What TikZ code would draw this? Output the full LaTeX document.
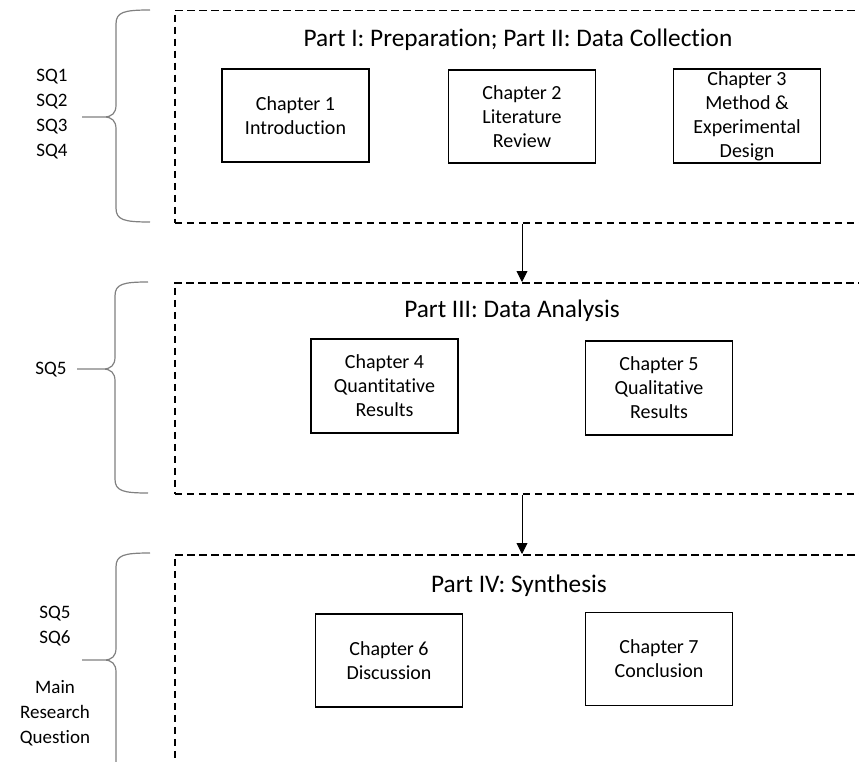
\documentclass[tikz,border=0pt]{standalone}
\usepackage{fontspec}
\setmainfont{Carlito}[Ligatures={NoCommon,NoRare,NoContextual}]
\usetikzlibrary{arrows.meta}
\begin{document}
\begin{tikzpicture}[x=1pt,y=-1pt,
  partbox/.style={draw, dash pattern=on 7.5pt off 4.5pt, line width=1.5pt, anchor=north west, inner sep=0pt, minimum width=720pt},
  chapbox/.style={draw, line width=1.5pt, minimum width=147pt, minimum height=93pt, inner sep=0pt, align=center, font=\fontsize{20}{24}\selectfont},
  parttitle/.style={font=\fontsize{25.3}{30}\selectfont, anchor=base, inner sep=0pt},
  sqlabel/.style={align=center, inner sep=0pt, font=\fontsize{19}{25}\selectfont},
  bracestyle/.style={draw=black!50, line width=1.2pt},
  arr/.style={-{Triangle[width=11pt,length=11pt]}, line width=0.9pt}]
\useasboundingbox (0,0) rectangle (859,762);
\clip (0,0) rectangle (859,762);

% part boxes
\node[partbox, minimum height=212pt] (p1) at (174,10) {};
\node[partbox, minimum height=211pt] (p2) at (174,282) {};
\node[partbox, minimum height=260pt] (p3) at (174,554) {};

% titles
\node[parttitle] (t1) at (518,47) {Part I: Preparation; Part II: Data Collection};
\node[parttitle] (t2) at (512,317) {Part III: Data Analysis};
\node[parttitle] (t3) at (519,592) {Part IV: Synthesis};

% chapters
\node[chapbox] (c1) at (295.5,115.5) {Chapter 1\\Introduction};
\node[chapbox] (c2) at (522,116.5) {Chapter 2\\Literature\\Review};
\node[chapbox, minimum height=94pt] (c3) at (747,116) {Chapter 3\\Method \&\\Experimental\\Design};
\node[chapbox, minimum height=94pt] (c4) at (384.5,386) {Chapter 4\\Quantitative\\Results};
\node[chapbox, minimum height=94pt] (c5) at (659,388) {Chapter 5\\Qualitative\\Results};
\node[chapbox] (c6) at (389,660.5) {Chapter 6\\Discussion};
\node[chapbox] (c7) at (659,659) {Chapter 7\\Conclusion};

% arrows between parts
\coordinate (ax) at (522,0);
\draw[arr] (ax |- p1.south) -- (ax |- p2.north);
\draw[arr] (ax |- p2.south) -- (ax |- p3.north);

% labels
\node[sqlabel] (s1) at (52,114) {SQ1\\SQ2\\SQ3\\SQ4};
\node[sqlabel] (s2) at (51,370) {SQ5};
\node[sqlabel] (s3) at (55,676) {SQ5\\SQ6\\[25pt]Main\\Research\\Question};

% braces
\draw[bracestyle] (150,10) .. controls (124,10) and (116,12) .. (116,24)
  -- (116,105) .. controls (116,113) and (112,117) .. (104,117) -- (82,117)
  -- (104,117) .. controls (112,117) and (116,121) .. (116,129)
  -- (116,208) .. controls (116,220) and (124,222) .. (150,222);
\draw[bracestyle] (148,282) .. controls (123,282) and (115,284) .. (115,296)
  -- (115,357) .. controls (115,365) and (111,369) .. (103,369) -- (77,369)
  -- (103,369) .. controls (111,369) and (115,373) .. (115,381)
  -- (115,479) .. controls (115,491) and (123,493) .. (148,493);
\draw[bracestyle] (150,553) .. controls (124,553) and (116,555) .. (116,567)
  -- (116,648) .. controls (116,656) and (112,660) .. (104,660) -- (82,660)
  -- (104,660) .. controls (112,660) and (116,664) .. (116,672)
  -- (116,780);
\end{tikzpicture}
\end{document}
